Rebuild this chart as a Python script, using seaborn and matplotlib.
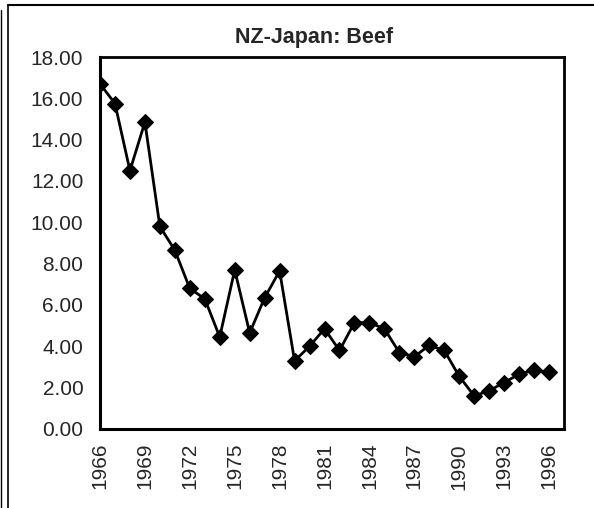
import numpy as np
import pandas as pd
import seaborn as sns
import matplotlib.pyplot as plt
from matplotlib.lines import Line2D

# datos
years = list(range(1966, 1997))
beef = [16.70, 15.75, 12.50, 14.85, 9.80, 8.65, 6.80, 6.30, 4.45, 7.70,
        4.65, 6.35, 7.65, 3.30, 4.00, 4.85, 3.80, 5.15, 5.15, 4.85,
        3.70, 3.50, 4.05, 3.80, 2.55, 1.60, 1.85, 2.25, 2.65, 2.85, 2.75]
year_labels = [str(y) for y in range(1966, 1997, 3)]
title = 'NZ-Japan: Beef'

sns.set_style('white')
plt.rcParams['font.family'] = ['Liberation Sans', 'DejaVu Sans']

df = pd.DataFrame({'year': years, 'beef': beef})

fig = plt.figure(figsize=(5.94, 5.08), dpi=100)
ax = fig.add_axes([100/594, 79/508, 464/594, 372/508])

sns.lineplot(data=df, x='year', y='beef', ax=ax, color='black', linewidth=2.0,
             marker='D', markersize=8.5, markeredgecolor='black', markerfacecolor='black')

ax.set_xlim(1966, 1997)
ax.set_ylim(0, 18)
ax.set_xticks(np.arange(1966, 1998))
ax.set_xticklabels([str(y) if str(y) in year_labels else '' for y in range(1966, 1998)],
                   rotation=90, fontsize=15)
ax.set_yticks(np.arange(0, 19, 2))
ax.set_yticklabels(['%.2f' % v for v in np.arange(0, 19, 2)], fontsize=15)
ax.tick_params(axis='both', direction='inout', length=8, width=1.2, color='black')
ax.tick_params(axis='y', pad=8)
ax.tick_params(axis='x', pad=6)
ax.set_xlabel('')
ax.set_ylabel('')

for s in ['left', 'bottom']:
    ax.spines[s].set_linewidth(2.2)
    ax.spines[s].set_color('black')
for s in ['top', 'right']:
    ax.spines[s].set_linewidth(2.0)
    ax.spines[s].set_color('black')

fig.text(314/594, 1 - 37/508, title, ha='center', va='center', fontsize=15.5, fontweight='bold')

# marco exterior del area del grafico
fig.add_artist(Line2D([8/594, 1], [1 - 5/508, 1 - 5/508], color='black', linewidth=1.5))
fig.add_artist(Line2D([8/594, 8/594], [0, 1 - 5/508], color='black', linewidth=1.2))
fig.add_artist(Line2D([1/594, 1/594], [0, 1 - 10/508], color='black', linewidth=1.0))

fig.savefig('out.png', dpi=100, facecolor='white')
